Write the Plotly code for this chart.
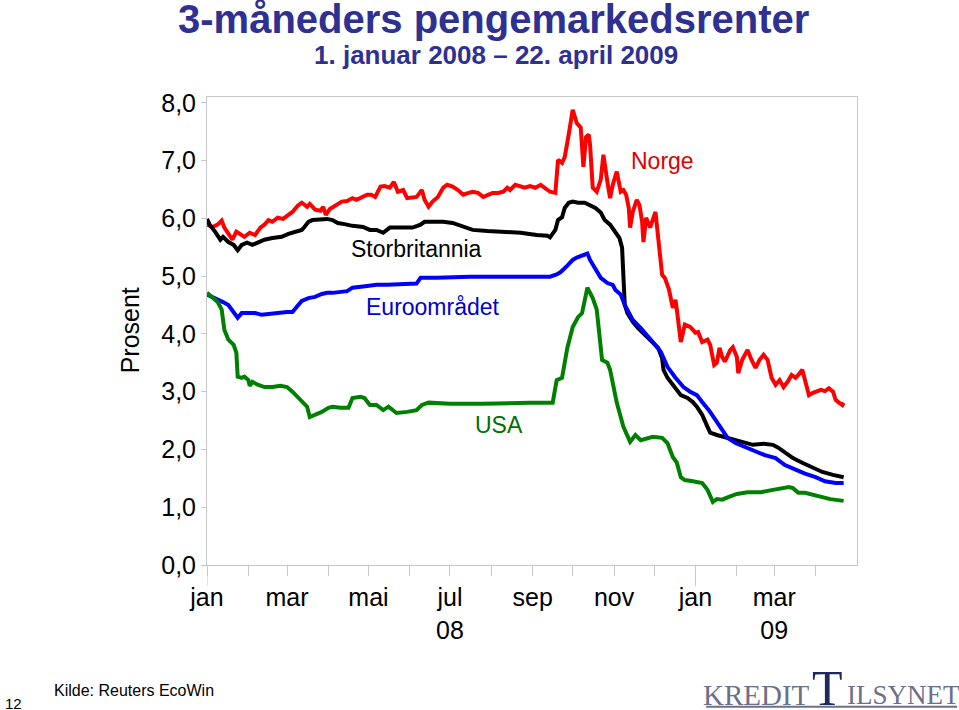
#!/usr/bin/env python3
"""3-måneders pengemarkedsrenter, 1. januar 2008 - 22. april 2009 (Plotly)."""

import pandas as pd
import plotly.graph_objects as go

START = pd.Timestamp("2008-01-01")

# days since 1 Jan 2008, value in percent
norge_day = [0, 4, 8, 11, 13, 17, 19, 22, 26, 28, 32, 36, 40, 43, 46, 49, 53, 57, 61, 64,
             68, 71, 75, 77, 81, 85, 87, 89, 92, 97, 101, 105, 109, 112, 116, 120, 123, 126,
             130, 133, 137, 140, 143, 147, 150, 154, 157, 161, 163, 166, 169, 173, 177, 180,
             184, 188, 192, 196, 199, 203, 207, 211, 214, 218, 222, 225, 227, 231, 235, 238,
             242, 246, 250, 253, 257, 261, 263, 266, 268, 271, 274, 277, 280, 282, 284, 286,
             287, 289, 292, 295, 297, 300, 302, 304, 307, 310, 312, 314, 316, 317, 319, 322,
             324, 326, 327, 329, 332, 336, 338, 341, 343, 346, 349, 351, 352, 355, 358, 362,
             366, 368, 371, 375, 377, 380, 382, 384, 386, 388, 392, 394, 397, 398, 401, 405,
             408, 411, 414, 417, 420, 423, 426, 429, 432, 435, 438, 441, 443, 446, 448, 451,
             454, 457, 460, 463, 466, 469, 471, 473, 476, 477]
norge_val = [5.89, 5.85, 5.89, 5.96, 5.84, 5.68, 5.63, 5.77, 5.71, 5.68, 5.75, 5.71, 5.84,
             5.89, 5.97, 5.94, 6.01, 5.99, 6.06, 6.11, 6.22, 6.27, 6.20, 6.25, 6.15, 6.13,
             6.20, 6.06, 6.16, 6.23, 6.29, 6.30, 6.35, 6.32, 6.37, 6.41, 6.41, 6.37, 6.55,
             6.56, 6.53, 6.63, 6.46, 6.49, 6.35, 6.37, 6.37, 6.49, 6.32, 6.20, 6.29, 6.37,
             6.53, 6.58, 6.55, 6.49, 6.41, 6.44, 6.46, 6.44, 6.37, 6.41, 6.44, 6.44, 6.46,
             6.53, 6.49, 6.58, 6.55, 6.53, 6.56, 6.53, 6.58, 6.53, 6.46, 6.44, 7.01, 6.96,
             7.06, 7.45, 7.88, 7.65, 7.57, 6.89, 7.41, 7.45, 7.27, 6.53, 6.46, 6.67, 7.10,
             6.63, 6.35, 6.58, 6.81, 6.46, 6.49, 6.41, 6.18, 5.84, 6.11, 6.32, 6.23, 5.94,
             5.59, 6.01, 5.84, 6.11, 5.71, 5.02, 4.97, 4.78, 4.45, 4.59, 4.42, 3.86, 4.16,
             4.12, 4.02, 4.03, 3.86, 3.90, 3.81, 3.46, 3.50, 3.76, 3.60, 3.52, 3.72, 3.77,
             3.60, 3.32, 3.55, 3.72, 3.55, 3.41, 3.55, 3.64, 3.55, 3.24, 3.12, 3.20, 3.08,
             3.17, 3.29, 3.24, 3.29, 3.38, 3.20, 2.94, 2.98, 3.00, 3.03, 3.01, 3.06, 3.00,
             2.86, 2.82, 2.77, 2.81]

uk_day = [0, 2, 6, 10, 12, 16, 20, 23, 26, 30, 34, 38, 43, 49, 56, 61, 66, 71, 73, 76, 79,
          85, 90, 94, 98, 103, 109, 117, 122, 127, 132, 137, 145, 154, 160, 163, 169, 177,
          184, 188, 193, 199, 210, 222, 235, 247, 255, 257, 261, 263, 266, 268, 271, 274,
          278, 283, 287, 291, 295, 298, 302, 306, 309, 311, 312, 313, 315, 319, 323, 328,
          334, 338, 341, 342, 345, 350, 355, 360, 364, 367, 371, 375, 377, 382, 390, 397,
          403, 409, 417, 424, 428, 433, 439, 446, 454, 461, 469, 476, 477]
uk_val = [5.99, 5.89, 5.77, 5.63, 5.68, 5.59, 5.54, 5.45, 5.54, 5.58, 5.54, 5.58, 5.63, 5.66,
          5.68, 5.73, 5.77, 5.80, 5.85, 5.94, 5.97, 5.99, 5.99, 5.97, 5.92, 5.90, 5.87, 5.85,
          5.80, 5.80, 5.75, 5.84, 5.84, 5.84, 5.89, 5.94, 5.94, 5.94, 5.92, 5.89, 5.84, 5.80,
          5.78, 5.77, 5.75, 5.71, 5.70, 5.67, 5.80, 5.97, 6.02, 6.18, 6.27, 6.29, 6.27, 6.27,
          6.23, 6.18, 6.10, 5.97, 5.89, 5.77, 5.66, 5.49, 4.90, 4.50, 4.36, 4.21, 4.10, 3.98,
          3.86, 3.76, 3.58, 3.38, 3.24, 3.08, 2.94, 2.89, 2.82, 2.74, 2.60, 2.39, 2.29, 2.25,
          2.20, 2.16, 2.13, 2.08, 2.10, 2.08, 2.03, 1.94, 1.85, 1.77, 1.68, 1.61, 1.56, 1.52,
          1.52]

euro_day = [0, 6, 12, 16, 20, 23, 26, 31, 36, 41, 47, 53, 60, 64, 68, 71, 76, 81, 86, 90,
            94, 100, 105, 109, 115, 120, 127, 135, 157, 160, 172, 197, 222, 247, 257, 262,
            265, 270, 274, 277, 281, 285, 287, 291, 295, 300, 304, 306, 310, 313, 319, 325,
            330, 334, 340, 345, 351, 357, 362, 367, 371, 376, 381, 386, 390, 396, 403, 411,
            418, 426, 433, 441, 448, 456, 463, 471, 477]
euro_val = [4.68, 4.62, 4.55, 4.50, 4.38, 4.28, 4.36, 4.36, 4.36, 4.33, 4.35, 4.36, 4.38,
            4.38, 4.50, 4.57, 4.62, 4.64, 4.69, 4.71, 4.71, 4.73, 4.74, 4.80, 4.81, 4.83,
            4.85, 4.85, 4.87, 4.97, 4.97, 4.99, 4.99, 4.99, 4.99, 5.03, 5.07, 5.18, 5.28,
            5.32, 5.35, 5.39, 5.28, 5.11, 4.97, 4.88, 4.85, 4.76, 4.68, 4.50, 4.24, 4.10,
            3.98, 3.86, 3.69, 3.43, 3.24, 3.08, 3.00, 2.94, 2.82, 2.68, 2.51, 2.34, 2.20,
            2.11, 2.04, 1.96, 1.90, 1.85, 1.73, 1.65, 1.58, 1.52, 1.45, 1.42, 1.42]

usa_day = [0, 4, 8, 11, 13, 16, 20, 22, 23, 26, 28, 31, 32, 34, 38, 43, 49, 55, 60, 64, 68,
           72, 75, 77, 81, 86, 91, 94, 100, 106, 109, 115, 118, 122, 127, 132, 136, 142, 150,
           157, 161, 166, 182, 207, 242, 259, 262, 266, 270, 274, 278, 281, 285, 289, 292,
           296, 300, 302, 307, 312, 317, 321, 325, 330, 334, 341, 345, 349, 352, 355, 358,
           364, 371, 375, 379, 382, 386, 391, 397, 405, 415, 424, 432, 436, 439, 443, 448,
           454, 460, 467, 477]
usa_val = [4.71, 4.64, 4.55, 4.42, 4.07, 3.90, 3.81, 3.67, 3.26, 3.24, 3.26, 3.20, 3.10,
           3.17, 3.12, 3.08, 3.08, 3.10, 3.08, 3.00, 2.91, 2.81, 2.74, 2.56, 2.60, 2.65,
           2.72, 2.74, 2.72, 2.72, 2.89, 2.91, 2.89, 2.77, 2.77, 2.68, 2.74, 2.63, 2.65,
           2.68, 2.77, 2.81, 2.79, 2.79, 2.81, 2.81, 3.20, 3.24, 3.76, 4.12, 4.29, 4.36,
           4.80, 4.62, 4.42, 3.55, 3.50, 3.38, 2.81, 2.39, 2.13, 2.25, 2.16, 2.20, 2.22,
           2.20, 2.11, 1.87, 1.77, 1.52, 1.47, 1.45, 1.42, 1.30, 1.09, 1.14, 1.13, 1.18,
           1.23, 1.26, 1.26, 1.30, 1.33, 1.35, 1.33, 1.25, 1.25, 1.21, 1.18, 1.14, 1.11]

month_ticks = pd.date_range("2008-01-01", "2009-04-01", freq="MS")
month_text = ["jan", "", "mar", "", "mai", "", "jul<br>08", "", "sep", "", "nov", "",
              "jan", "", "mar<br>09", ""]

series = [
    ("Norge", norge_day, norge_val, "#FF0000"),
    ("Storbritannia", uk_day, uk_val, "#000000"),
    ("Euroområdet", euro_day, euro_val, "#0000FF"),
    ("USA", usa_day, usa_val, "#008000"),
]

# label text, date, level, colour
labels = [
    ("Norge", "2008-12-07", 7.0, "#E00000"),
    ("Storbritannia", "2008-06-06", 5.47, "#000000"),
    ("Euroområdet", "2008-06-18", 4.47, "#0000CC"),
    ("USA", "2008-08-07", 2.42, "#007000"),
]

FONT = "Liberation Sans, Arial, sans-serif"
SERIF = "Liberation Serif, Times New Roman, serif"
NAVY = "#2E3092"
LOGO = "#6C7088"
GRID = "#C8C8C8"


def note(fig, x, y, text, size, color, family=FONT, xanchor="center", **kw):
    fig.add_annotation(xref="paper", yref="paper", x=x, y=y, text=text,
                       showarrow=False, xanchor=xanchor, yanchor="middle",
                       font=dict(family=family, size=size, color=color), **kw)


def main():
    fig = go.Figure()
    for name, days, vals, color in series:
        dates = START + pd.to_timedelta(days, unit="D")
        fig.add_trace(go.Scatter(
            x=dates, y=vals, mode="lines", name=name,
            line=dict(color=color, width=4),
        ))

    for text, d, v, color in labels:
        fig.add_annotation(x=d, y=v, text=text, showarrow=False,
                           xanchor="center", yanchor="middle",
                           font=dict(family=FONT, size=23, color=color))

    # longer ticks at the year boundaries
    for yr in ["2008-01-01", "2009-01-01"]:
        fig.add_shape(type="line", xref="x", yref="paper", x0=yr, x1=yr,
                      y0=0, y1=-0.045, line=dict(color=GRID, width=1))

    note(fig, 0.4415, 1.166, "<b>3-måneders pengemarkedsrenter</b>", 40, NAVY)
    note(fig, 0.444, 1.090, "<b>1. januar 2008 – 22. april 2009</b>", 26, NAVY,
         family="Liberation Sans Narrow, " + FONT)
    note(fig, -0.118, 0.502, "Prosent", 25, "#000000", textangle=-90)

    # footer
    note(fig, -0.298, -0.295, "12", 15, "#000000")
    note(fig, -0.2385, -0.269, "Kilde: Reuters EcoWin", 16, "#000000", xanchor="left")
    note(fig, 0.931, -0.278, "KREDIT", 29, LOGO, family=SERIF, xanchor="right")
    note(fig, 0.955, -0.262, "T", 50, "#1F2A5C", family=SERIF)
    note(fig, 0.981, -0.278, "ILSYNET", 27, LOGO, family=SERIF, xanchor="left")
    fig.add_shape(type="line", xref="paper", yref="paper", x0=0.768, x1=1.154,
                  y0=-0.303, y1=-0.303, line=dict(color=LOGO, width=2))

    fig.update_xaxes(
        type="date", range=["2008-01-01", "2009-05-02"],
        tickvals=month_ticks, ticktext=month_text,
        showline=True, linecolor=GRID, linewidth=1, mirror=True,
        ticks="outside", ticklen=10, tickcolor=GRID,
        showgrid=False, zeroline=False,
        tickfont=dict(family=FONT, size=25, color="#000000"),
    )
    fig.update_yaxes(
        range=[0, 8.1], tickvals=[0, 1, 2, 3, 4, 5, 6, 7, 8], tickformat=".1f",
        showline=True, linecolor=GRID, linewidth=1, mirror=True,
        ticks="outside", ticklen=5, tickcolor=GRID,
        showgrid=False, zeroline=False,
        tickfont=dict(family=FONT, size=25, color="#000000"),
    )
    fig.update_layout(
        width=959, height=710,
        margin=dict(l=207, r=102, t=97, b=145),
        paper_bgcolor="white", plot_bgcolor="white",
        showlegend=False, separators=", ",
    )
    # drop the browser's default 8px body margin so the figure fills the window
    fig.write_html("out.html", config={"displayModeBar": False},
                   post_script="document.body.style.margin = '0';")


if __name__ == "__main__":
    main()
